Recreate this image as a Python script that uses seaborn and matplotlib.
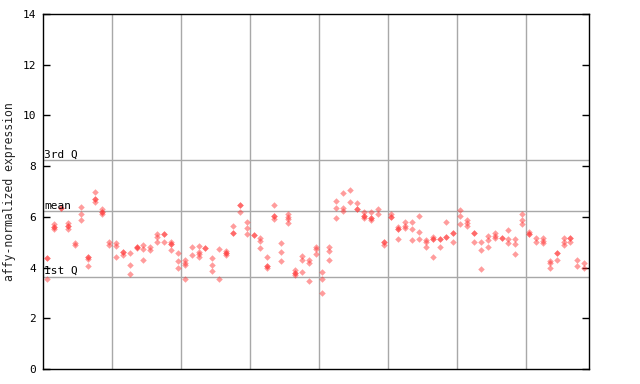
import numpy as np
import pandas as pd
import matplotlib
matplotlib.use("Agg")
import matplotlib.pyplot as plt
import matplotlib.transforms as mtransforms
import seaborn as sns

# Expression values per sample column (8 groups of columns); repeated values mark overlapping replicates
group1 = [[4.39, 4.39, 3.55], [5.71, 5.61, 5.61, 5.51], [6.34, 6.34], [5.74, 5.64, 5.64, 5.51],
          [4.98, 4.90], [6.40, 6.11, 5.88], [4.43, 4.43, 4.33, 4.06], [6.97, 6.69, 6.69, 6.60],
          [6.30, 6.18, 6.18, 6.10], [5.02, 4.89]]
group2 = [[4.96, 4.86, 4.43], [4.63, 4.63, 4.50], [4.56, 4.10, 3.75], [4.83, 4.83, 4.76],
          [4.89, 4.73, 4.30], [4.80, 4.69], [5.32, 5.22, 5.01], [5.31, 5.31, 4.99],
          [5.01, 4.92, 4.92, 4.69], [4.56, 4.26, 3.97]]
group3 = [[4.30, 4.19, 4.10, 3.55], [4.80, 4.48], [4.87, 4.63, 4.53, 4.43], [4.78, 4.78],
          [4.36, 4.09, 3.86], [4.72, 3.55], [4.67, 4.56, 4.56, 4.50], [5.64, 5.35, 5.35],
          [6.48, 6.48, 6.18], [5.81, 5.55, 5.32]]
group4 = [[5.30, 5.30], [5.15, 5.06, 4.76], [4.40, 4.07, 4.07, 3.98], [6.47, 6.05, 6.05, 5.93],
          [4.96, 4.61, 4.26], [6.11, 6.01, 5.90, 5.77], [3.90, 3.80, 3.80, 3.71], [4.46, 4.30, 3.83],
          [4.30, 4.19, 3.47], [4.83, 4.72, 4.53]]
group5 = [[3.81, 3.55, 2.98], [4.83, 4.65, 4.30], [6.61, 6.34, 5.94], [6.93, 6.34, 6.24],
          [7.06, 6.57], [6.53, 6.32, 6.32], [6.18, 6.05, 6.05, 5.94], [6.18, 5.97, 5.97, 5.88],
          [6.31, 6.11], [5.02, 5.02, 4.89]]
group6 = [[6.11, 6.01, 6.01], [5.61, 5.52, 5.52, 5.11], [5.78, 5.65, 5.55], [5.78, 5.51, 5.09],
          [6.03, 5.42, 5.11], [5.09, 5.00, 4.80], [5.19, 5.11, 5.11, 4.40], [5.11, 5.11, 4.80],
          [5.78, 5.19, 5.19], [5.38, 5.38, 4.99]]
group7 = [[6.27, 6.03, 5.72], [5.88, 5.77, 5.65], [5.38, 5.38, 4.99], [5.02, 4.69, 3.93],
          [5.25, 5.09, 4.80], [5.35, 5.25, 5.15], [5.18, 5.18], [5.48, 5.13, 4.96],
          [5.13, 4.93, 4.53], [6.11, 5.88, 5.72]]
group8 = [[5.42, 5.31, 5.31], [5.15, 5.02], [5.15, 5.06, 4.96], [4.26, 4.17, 3.99],
          [4.59, 4.59, 4.30], [5.15, 5.00, 4.88], [5.18, 5.18, 4.99], [4.30, 4.06], [4.17, 3.97]]

quartile_values = [3.63, 6.22, 8.24]
quartile_labels = ["1st Q", "mean", "3rd Q"]
y_ticks = [0, 2, 4, 6, 8, 10, 12, 14]

groups = [group1, group2, group3, group4, group5, group6, group7, group8]
rows = []
col = 0
for g in groups:
    for column in g:
        for v in column:
            rows.append({"sample": col, "expression": v})
        col += 1
n_cols = col
df = pd.DataFrame(rows)

sns.set_style("white")
plt.rcParams["font.family"] = ["DejaVu Sans Mono", "DejaVu Sans"]

fig = plt.figure(figsize=(6.4, 3.84), dpi=100)
ax = fig.add_axes([43 / 640, 15 / 384, 546 / 640, 355 / 384])

grid_gray = "#a8a8a8"
# vertical separators between groups
bounds = np.cumsum([len(g) for g in groups])[:-1] - 0.5
for b in bounds:
    ax.axvline(b, color=grid_gray, lw=1.0, zorder=1)
for q in quartile_values:
    ax.axhline(q, color=grid_gray, lw=1.0, zorder=1)

sns.scatterplot(data=df, x="sample", y="expression", marker="D", s=11,
                color="#ff3a3a", alpha=0.5, linewidth=0, ax=ax, zorder=3)

ax.set_xlim(-0.58, n_cols - 1 + 0.7)
ax.set_ylim(0, 14)
ax.set_yticks(y_ticks)
ax.set_yticklabels([str(t) for t in y_ticks], fontsize=8)
ax.set_xticks([])
ax.set_xlabel("")
ax.set_ylabel("affy-normalized expression", fontsize=8.3, labelpad=5)
ax.tick_params(axis="y", direction="in", length=5, width=1, pad=5,
               left=True, right=True, colors="black")
for s in ax.spines.values():
    s.set_color("black")
    s.set_linewidth(1.0)

trans = mtransforms.blended_transform_factory(ax.transAxes, ax.transData)
for q, lab in zip(quartile_values, quartile_labels):
    ax.text(0.002, q + 0.03, lab, transform=trans, fontsize=8,
            va="bottom", ha="left", color="black", zorder=4)

fig.savefig("out.png", dpi=100)
